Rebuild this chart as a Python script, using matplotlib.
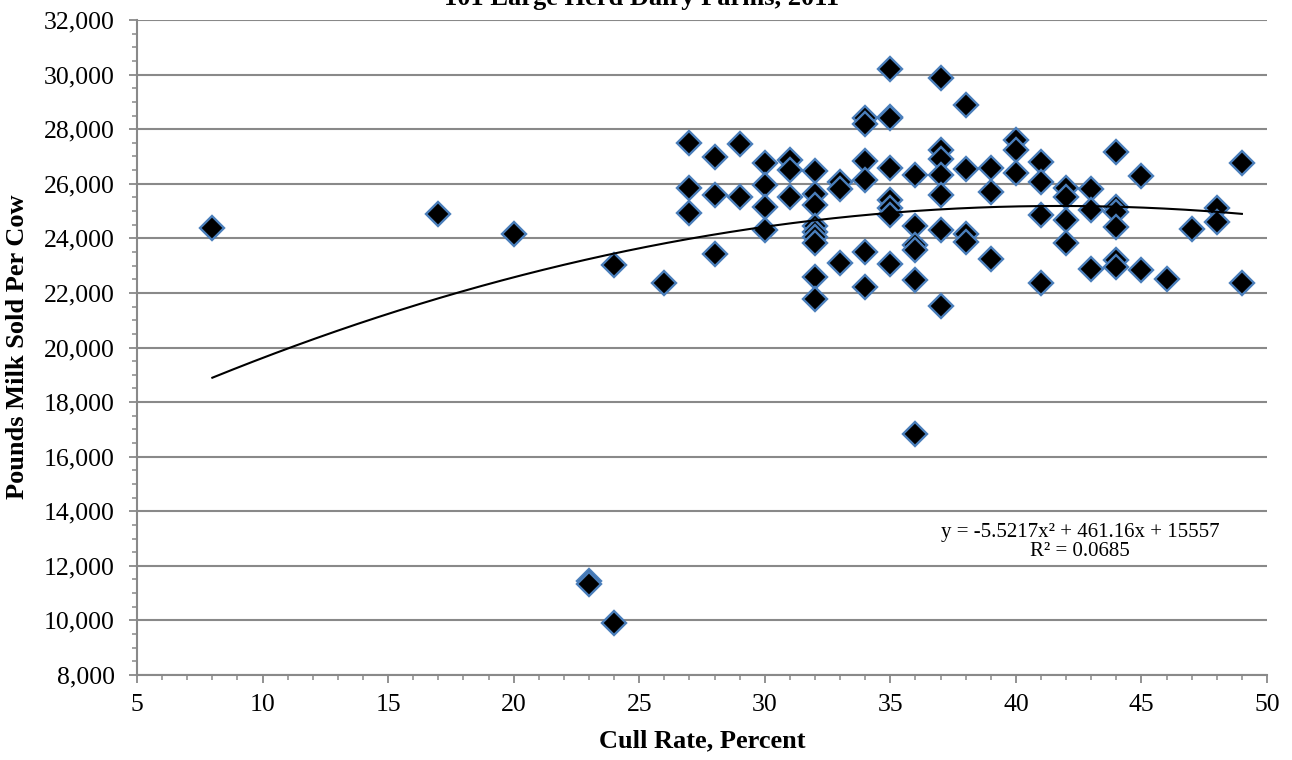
import numpy as np
import matplotlib
matplotlib.use("Agg")
import matplotlib.pyplot as plt
from matplotlib.ticker import MultipleLocator, FuncFormatter

# cull rate (%) and pounds of milk sold per cow
cull_rate = [8, 17, 20, 23, 23, 24, 24, 26,
             27, 27, 27, 28, 28, 28, 29, 29,
             30, 30, 30, 30, 31, 31, 31,
             32, 32, 32, 32, 32, 32, 32, 32, 32,
             33, 33, 33, 34, 34, 34, 34, 34, 34,
             35, 35, 35, 35, 35, 35, 35, 35,
             36, 36, 36, 36, 36, 36,
             37, 37, 37, 37, 37, 37, 37,
             38, 38, 38, 38, 39, 39, 39, 40, 40, 40,
             41, 41, 41, 41, 42, 42, 42, 42, 43, 43, 43,
             44, 44, 44, 44, 44, 44, 45, 45, 46, 47, 48, 48, 49, 49]
milk = [24370, 24890, 24150, 11450, 11320, 23020, 9900, 22380,
        27480, 25860, 24920, 26980, 25580, 23420, 27470, 25520,
        26750, 25950, 25150, 24300, 26880, 26520, 25510,
        26460, 25640, 25220, 24450, 24250, 24050, 23830, 22580, 21770,
        26080, 25800, 23110, 28420, 28190, 26850, 26120, 23510, 22230,
        30190, 28460, 28400, 26560, 25400, 25100, 24860, 23070,
        26320, 24470, 23760, 23570, 22480, 16820,
        29860, 27240, 26900, 26320, 25590, 24310, 21520,
        28890, 26530, 24160, 23880, 26590, 25700, 23230, 27620, 27240, 26410,
        26790, 26080, 24860, 22360, 25830, 25530, 24660, 23820, 25800, 25040, 22860,
        27180, 25160, 24980, 24430, 23210, 22960, 26280, 22830, 22500, 24350, 25100, 24600, 26770, 22350]

# trendline coefficients as printed on the chart
trend_coef = [-5.5217, 461.16, 15557]
trend_text = "y = -5.5217x\u00b2 + 461.16x + 15557\nR\u00b2 = 0.0685"

plt.rcParams['font.family'] = ['Liberation Serif', 'DejaVu Serif']
grey = '#898989'

fig = plt.figure(figsize=(12.92, 7.6), dpi=100)
ax = fig.add_axes([137/1292, 1-675/760, 1130/1292, 655/760])

ax.set_xlim(5, 50)
ax.set_ylim(8000, 32000)
ax.yaxis.set_major_locator(MultipleLocator(2000))
ax.yaxis.set_minor_locator(MultipleLocator(500))
ax.xaxis.set_major_locator(MultipleLocator(5))
ax.xaxis.set_minor_locator(MultipleLocator(1))
ax.yaxis.set_major_formatter(FuncFormatter(lambda v, p: f"{int(v):,}"))

ax.grid(axis='y', which='major', color=grey, lw=1.5, zorder=0)
ax.set_axisbelow(True)
for s in ['top', 'right']:
    ax.spines[s].set_visible(False)
for s in ['left', 'bottom']:
    ax.spines[s].set_color(grey)
    ax.spines[s].set_linewidth(1.5)
ax.tick_params(which='major', length=6, width=1.3, color=grey, labelsize=18.5)
ax.tick_params(axis='y', which='major', pad=10)
ax.tick_params(axis='x', which='major', pad=8)
ax.tick_params(which='minor', length=3.5, width=1.1, color=grey)

ax.plot(cull_rate, milk, linestyle='none', marker='D', ms=12,
        mfc='black', mec='#4a7ebb', mew=1.7, zorder=3)

xs = np.linspace(min(cull_rate), max(cull_rate), 200)
ax.plot(xs, np.polyval(trend_coef, xs), color='black', lw=1.5, zorder=4)

ax.text(42.55, 12870, trend_text, ha='center', va='center', fontsize=15,
        linespacing=1.0)

ax.set_xlabel("Cull Rate, Percent", fontsize=19, fontweight='bold', labelpad=9)
fig.text(18/1292, 1-347/760, "Pounds Milk Sold Per Cow", rotation=90,
         ha='center', va='center', fontsize=19, fontweight='bold')
fig.text(642/1292, 1-4.5/760, "101 Large Herd Dairy Farms, 2011",
         ha='center', va='baseline', fontsize=19, fontweight='bold')

plt.savefig("out.png", dpi=100)
